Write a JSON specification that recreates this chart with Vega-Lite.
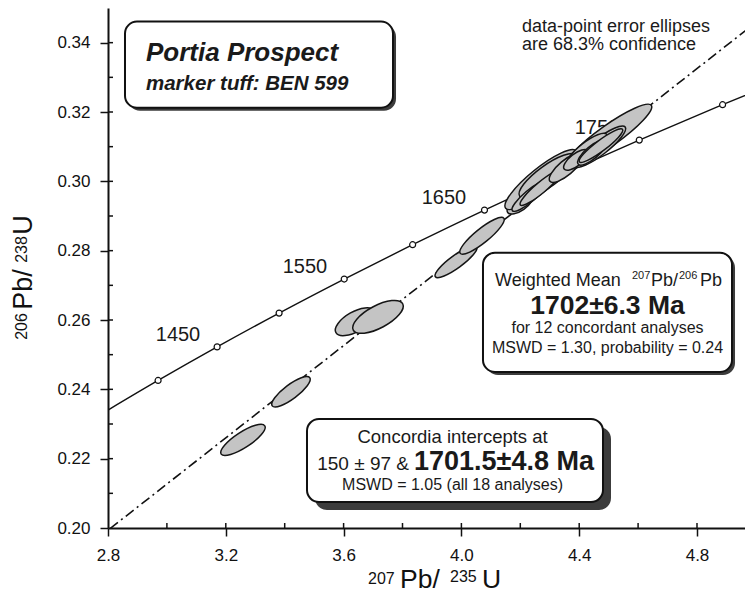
{
  "$schema": "https://vega.github.io/schema/vega-lite/v6.json",
  "width": 637,
  "height": 520,
  "autosize": "none",
  "padding": {"left": 108, "top": 8, "right": 0, "bottom": 65},
  "background": "white",
  "config": {
    "font": "Liberation Sans",
    "view": {"stroke": null},
    "axis": {
      "domainColor": "#111",
      "domainWidth": 2,
      "tickColor": "#111",
      "tickWidth": 1.5,
      "tickSize": 8,
      "labelColor": "#111",
      "labelFontSize": 17,
      "labelFlush": false,
      "grid": false,
      "labelFont": "Liberation Sans",
      "title": null
    },
    "axisX": {"labelPadding": 11},
    "axisY": {"labelPadding": 10}
  },
  "datasets": {
    "concordia": [
      {"t": 1350, "x": 2.7793, "y": 0.23297},
      {"t": 1400, "x": 2.9701, "y": 0.24256},
      {"t": 1450, "x": 3.1705, "y": 0.25224},
      {"t": 1500, "x": 3.3810, "y": 0.26199},
      {"t": 1550, "x": 3.6021, "y": 0.27181},
      {"t": 1600, "x": 3.8344, "y": 0.28172},
      {"t": 1650, "x": 4.0784, "y": 0.29170},
      {"t": 1700, "x": 4.3348, "y": 0.30176},
      {"t": 1750, "x": 4.6040, "y": 0.31189},
      {"t": 1800, "x": 4.8869, "y": 0.32210},
      {"t": 1850, "x": 5.1840, "y": 0.33240}
    ],
    "ellipses": [
      {"id": 1, "x": 3.2584, "y": 0.2254, "len": 52, "ratio": "r30", "ang": -33},
      {"id": 2, "x": 3.4214, "y": 0.2393, "len": 47, "ratio": "r30", "ang": -37},
      {"id": 3, "x": 3.6387, "y": 0.2595, "len": 44, "ratio": "r45", "ang": -30},
      {"id": 4, "x": 3.7168, "y": 0.2609, "len": 56, "ratio": "r40", "ang": -28},
      {"id": 5, "x": 3.9817, "y": 0.2768, "len": 51, "ratio": "r25", "ang": -36},
      {"id": 6, "x": 4.0700, "y": 0.2843, "len": 56, "ratio": "r25", "ang": -39},
      {"id": 7, "x": 4.1990, "y": 0.2935, "len": 30, "ratio": "r45", "ang": -35},
      {"id": 8, "x": 4.2703, "y": 0.3005, "len": 91, "ratio": "r25", "ang": -39},
      {"id": 9, "x": 4.2941, "y": 0.3016, "len": 70, "ratio": "r30", "ang": -36},
      {"id": 10, "x": 4.2329, "y": 0.2958, "len": 46, "ratio": "r25", "ang": -40},
      {"id": 11, "x": 4.2703, "y": 0.2982, "len": 54, "ratio": "r20", "ang": -40},
      {"id": 12, "x": 4.3552, "y": 0.3039, "len": 42, "ratio": "r35", "ang": -40},
      {"id": 13, "x": 4.5012, "y": 0.3132, "len": 104, "ratio": "r20", "ang": -35.5},
      {"id": 14, "x": 4.4706, "y": 0.3100, "len": 64, "ratio": "r25", "ang": -38},
      {"id": 15, "x": 4.4265, "y": 0.3091, "len": 50, "ratio": "r30", "ang": -38},
      {"id": 16, "x": 4.3891, "y": 0.3062, "len": 30, "ratio": "r40", "ang": -38},
      {"id": 17, "x": 4.4435, "y": 0.3083, "len": 36, "ratio": "r35", "ang": -40},
      {"id": 18, "x": 4.4740, "y": 0.3103, "len": 54, "ratio": "r20", "ang": -37}
    ]
  },
  "layer": [
    {
      "data": {"values": [{"x": 2.7, "y": 0.19271}, {"x": 5.0, "y": 0.34583}]},
      "mark": {"type": "line", "clip": true, "color": "#111", "strokeWidth": 1.6, "strokeDash": [10, 4, 2, 4]},
      "encoding": {
        "x": {
          "field": "x", "type": "quantitative",
          "scale": {"domain": [2.8, 4.963], "nice": false, "zero": false},
          "axis": {"values": [2.8, 3.2, 3.6, 4.0, 4.4, 4.8], "format": ".1f", "title": null}
        },
        "y": {
          "field": "y", "type": "quantitative",
          "scale": {"domain": [0.2, 0.35], "nice": false, "zero": false},
          "axis": {"values": [0.2, 0.22, 0.24, 0.26, 0.28, 0.3, 0.32, 0.34], "format": ".2f", "title": null}
        }
      }
    },
    {
      "data": {"name": "concordia"},
      "mark": {"type": "line", "clip": true, "color": "#111", "strokeWidth": 1.4, "interpolate": "monotone"},
      "encoding": {
        "x": {"field": "x", "type": "quantitative"},
        "y": {"field": "y", "type": "quantitative"},
        "order": {"field": "t"}
      }
    },
    {
      "data": {"name": "concordia"},
      "transform": [{"filter": "datum.t >= 1400 && datum.t <= 1800"}],
      "mark": {"type": "point", "shape": "circle", "clip": true, "filled": true, "fill": "white", "stroke": "#111", "strokeWidth": 1.2, "size": 36, "opacity": 1},
      "encoding": {
        "x": {"field": "x", "type": "quantitative"},
        "y": {"field": "y", "type": "quantitative"}
      }
    },
    {
      "data": {"values": [
        {"age": "1450", "x": 3.0377, "y": 0.2557},
        {"age": "1550", "x": 3.4689, "y": 0.27535},
        {"age": "1650", "x": 3.9409, "y": 0.29527},
        {"age": "1750", "x": 4.4604, "y": 0.31547}
      ]},
      "mark": {"type": "text", "fontSize": 20, "align": "center", "baseline": "middle", "color": "#1a1a1a"},
      "encoding": {
        "x": {"field": "x", "type": "quantitative"},
        "y": {"field": "y", "type": "quantitative"},
        "text": {"field": "age"}
      }
    },
    {
      "data": {"name": "ellipses"},
      "mark": {"type": "point", "filled": true, "color": "#c4c4c4", "stroke": "#151515", "strokeWidth": 1.5, "opacity": 1, "clip": true},
      "encoding": {
        "x": {"field": "x", "type": "quantitative"},
        "y": {"field": "y", "type": "quantitative"},
        "size": {"field": "len", "type": "quantitative", "legend": null,
          "scale": {"type": "pow", "exponent": 2, "domain": [0, 100], "range": [0, 10000]}},
        "shape": {"field": "ratio", "type": "nominal", "legend": null,
          "scale": {
            "domain": ["r20", "r25", "r30", "r35", "r40", "r45"],
            "range": [
              "M-1,0C-1,-0.1105,-0.5523,-0.2,0,-0.2C0.5523,-0.2,1,-0.1105,1,0C1,0.1105,0.5523,0.2,0,0.2C-0.5523,0.2,-1,0.1105,-1,0Z",
              "M-1,0C-1,-0.1381,-0.5523,-0.25,0,-0.25C0.5523,-0.25,1,-0.1381,1,0C1,0.1381,0.5523,0.25,0,0.25C-0.5523,0.25,-1,0.1381,-1,0Z",
              "M-1,0C-1,-0.1657,-0.5523,-0.3,0,-0.3C0.5523,-0.3,1,-0.1657,1,0C1,0.1657,0.5523,0.3,0,0.3C-0.5523,0.3,-1,0.1657,-1,0Z",
              "M-1,0C-1,-0.1933,-0.5523,-0.35,0,-0.35C0.5523,-0.35,1,-0.1933,1,0C1,0.1933,0.5523,0.35,0,0.35C-0.5523,0.35,-1,0.1933,-1,0Z",
              "M-1,0C-1,-0.2209,-0.5523,-0.4,0,-0.4C0.5523,-0.4,1,-0.2209,1,0C1,0.2209,0.5523,0.4,0,0.4C-0.5523,0.4,-1,0.2209,-1,0Z",
              "M-1,0C-1,-0.2485,-0.5523,-0.45,0,-0.45C0.5523,-0.45,1,-0.2485,1,0C1,0.2485,0.5523,0.45,0,0.45C-0.5523,0.45,-1,0.2485,-1,0Z"
            ]
          }},
        "angle": {"field": "ang", "type": "quantitative", "scale": null}
      }
    },
    {
      "data": {"values": [
        {"v": 0.21}, {"v": 0.22}, {"v": 0.23}, {"v": 0.24}, {"v": 0.25}, {"v": 0.26}, {"v": 0.27},
        {"v": 0.28}, {"v": 0.29}, {"v": 0.30}, {"v": 0.31}, {"v": 0.32}, {"v": 0.33}, {"v": 0.34}
      ]},
      "mark": {"type": "tick", "orient": "horizontal", "clip": true, "color": "#111", "size": 10, "thickness": 1.5, "opacity": 1},
      "encoding": {
        "x": {"datum": 2.8, "type": "quantitative"},
        "y": {"field": "v", "type": "quantitative"}
      }
    },
    {
      "data": {"values": [
        {"v": 3.0}, {"v": 3.2}, {"v": 3.4}, {"v": 3.6}, {"v": 3.8},
        {"v": 4.0}, {"v": 4.2}, {"v": 4.4}, {"v": 4.6}, {"v": 4.8}
      ]},
      "mark": {"type": "tick", "orient": "vertical", "clip": true, "color": "#111", "size": 10, "thickness": 1.5, "opacity": 1},
      "encoding": {
        "x": {"field": "v", "type": "quantitative"},
        "y": {"datum": 0.2, "type": "quantitative"}
      }
    },
    {
      "mark": {"type": "rule", "color": "#111", "strokeWidth": 2.5},
      "encoding": {"y": {"datum": 0.35, "type": "quantitative"}}
    },
    {
      "data": {"values": [
        {"box": "title", "x1": 2.8679, "x2": 3.7780, "y1": 0.32038, "y2": 0.34520},
        {"box": "mean", "x1": 4.0835, "x2": 4.9291, "y1": 0.24416, "y2": 0.27852},
        {"box": "intercepts", "x1": 3.5029, "x2": 4.5080, "y1": 0.20520, "y2": 0.22916}
      ]},
      "mark": {"type": "rect", "color": "#3c3c3c", "cornerRadius": 12},
      "encoding": {
        "x": {"field": "x1", "type": "quantitative"},
        "x2": {"field": "x2"},
        "y": {"field": "y1", "type": "quantitative"},
        "y2": {"field": "y2"}
      }
    },
    {
      "data": {"values": [
        {"box": "title", "x1": 2.8577, "x2": 3.7678, "y1": 0.32125, "y2": 0.34607},
        {"box": "mean", "x1": 4.0733, "x2": 4.9189, "y1": 0.24503, "y2": 0.27939},
        {"box": "intercepts", "x1": 3.4757, "x2": 4.4808, "y1": 0.20751, "y2": 0.23147}
      ]},
      "mark": {"type": "rect", "fill": "white", "stroke": "#111", "strokeWidth": 2, "cornerRadius": 12},
      "encoding": {
        "x": {"field": "x1", "type": "quantitative"},
        "x2": {"field": "x2"},
        "y": {"field": "y1", "type": "quantitative"},
        "y2": {"field": "y2"}
      }
    },
    {
      "data": {"values": [{"label": "Portia Prospect", "x": 2.929, "y": 0.33482}]},
      "mark": {"type": "text", "fontSize": 26, "fontWeight": "bold", "fontStyle": "italic", "align": "left", "baseline": "alphabetic", "color": "#1a1a1a"},
      "encoding": {
        "x": {"field": "x", "type": "quantitative"},
        "y": {"field": "y", "type": "quantitative"},
        "text": {"field": "label"}
      }
    },
    {
      "data": {"values": [{"label": "marker tuff: BEN 599", "x": 2.929, "y": 0.32644}]},
      "mark": {"type": "text", "fontSize": 20.5, "fontWeight": "bold", "fontStyle": "italic", "align": "left", "baseline": "alphabetic", "color": "#1a1a1a"},
      "encoding": {
        "x": {"field": "x", "type": "quantitative"},
        "y": {"field": "y", "type": "quantitative"},
        "text": {"field": "label"}
      }
    },
    {
      "data": {"values": [
        {"label": "data-point error ellipses", "x": 4.2058, "y": 0.34319},
        {"label": "are 68.3% confidence", "x": 4.2058, "y": 0.33780}
      ]},
      "mark": {"type": "text", "fontSize": 18, "align": "left", "baseline": "alphabetic", "color": "#1a1a1a"},
      "encoding": {
        "x": {"field": "x", "type": "quantitative"},
        "y": {"field": "y", "type": "quantitative"},
        "text": {"field": "label"}
      }
    },
    {
      "data": {"values": [
        {"label": "Weighted Mean", "x": 4.1141, "y": 0.26986},
        {"label": "Pb/", "x": 4.6438, "y": 0.26986},
        {"label": "Pb", "x": 4.8102, "y": 0.26986}
      ]},
      "mark": {"type": "text", "fontSize": 18, "align": "left", "baseline": "alphabetic", "color": "#1a1a1a"},
      "encoding": {
        "x": {"field": "x", "type": "quantitative"},
        "y": {"field": "y", "type": "quantitative"},
        "text": {"field": "label"}
      }
    },
    {
      "data": {"values": [
        {"label": "207", "x": 4.5793, "y": 0.27188},
        {"label": "206", "x": 4.7389, "y": 0.27188}
      ]},
      "mark": {"type": "text", "fontSize": 11, "align": "left", "baseline": "alphabetic", "color": "#1a1a1a"},
      "encoding": {
        "x": {"field": "x", "type": "quantitative"},
        "y": {"field": "y", "type": "quantitative"},
        "text": {"field": "label"}
      }
    },
    {
      "data": {"values": [{"label": "Concordia intercepts at", "x": 3.97, "y": 0.22454}]},
      "mark": {"type": "text", "fontSize": 18.5, "align": "center", "baseline": "alphabetic", "color": "#1a1a1a"},
      "encoding": {
        "x": {"field": "x", "type": "quantitative"},
        "y": {"field": "y", "type": "quantitative"},
        "text": {"field": "label"}
      }
    },
    {
      "data": {"values": [
        {"label": "for 12 concordant analyses", "x": 4.4961, "y": 0.25629},
        {"label": "MSWD = 1.30, probability = 0.24", "x": 4.4961, "y": 0.25052},
        {"label": "MSWD = 1.05 (all 18 analyses)", "x": 3.97, "y": 0.21097}
      ]},
      "mark": {"type": "text", "fontSize": 16, "align": "center", "baseline": "alphabetic", "color": "#1a1a1a"},
      "encoding": {
        "x": {"field": "x", "type": "quantitative"},
        "y": {"field": "y", "type": "quantitative"},
        "text": {"field": "label"}
      }
    },
    {
      "data": {"values": [{"label": "1702±6.3 Ma", "x": 4.4961, "y": 0.26178}]},
      "mark": {"type": "text", "fontSize": 26.5, "fontWeight": "bold", "align": "center", "baseline": "alphabetic", "color": "#1a1a1a"},
      "encoding": {
        "x": {"field": "x", "type": "quantitative"},
        "y": {"field": "y", "type": "quantitative"},
        "text": {"field": "label"}
      }
    },
    {
      "data": {"values": [{"label": "150 ± 97 &", "x": 3.8221, "y": 0.21674}]},
      "mark": {"type": "text", "fontSize": 19, "align": "right", "baseline": "alphabetic", "color": "#1a1a1a"},
      "encoding": {
        "x": {"field": "x", "type": "quantitative"},
        "y": {"field": "y", "type": "quantitative"},
        "text": {"field": "label"}
      }
    },
    {
      "data": {"values": [{"label": "1701.5±4.8 Ma", "x": 3.8391, "y": 0.21674}]},
      "mark": {"type": "text", "fontSize": 27, "fontWeight": "bold", "align": "left", "baseline": "alphabetic", "color": "#1a1a1a"},
      "encoding": {
        "x": {"field": "x", "type": "quantitative"},
        "y": {"field": "y", "type": "quantitative"},
        "text": {"field": "label"}
      }
    },
    {
      "data": {"values": [
        {"label": "207", "x": 3.6829, "y": 0.18383},
        {"label": "235", "x": 3.9613, "y": 0.18441}
      ]},
      "mark": {"type": "text", "fontSize": 16, "align": "left", "baseline": "alphabetic", "color": "#111"},
      "encoding": {
        "x": {"field": "x", "type": "quantitative"},
        "y": {"field": "y", "type": "quantitative"},
        "text": {"field": "label"}
      }
    },
    {
      "data": {"values": [
        {"label": "Pb/", "x": 3.7915, "y": 0.18268},
        {"label": "U", "x": 4.0700, "y": 0.18268}
      ]},
      "mark": {"type": "text", "fontSize": 26.5, "align": "left", "baseline": "alphabetic", "color": "#111"},
      "encoding": {
        "x": {"field": "x", "type": "quantitative"},
        "y": {"field": "y", "type": "quantitative"},
        "text": {"field": "label"}
      }
    },
    {
      "data": {"values": [
        {"label": "206", "x": 2.5250, "y": 0.25427},
        {"label": "238", "x": 2.5250, "y": 0.27650}
      ]},
      "mark": {"type": "text", "fontSize": 16, "angle": 270, "align": "left", "baseline": "alphabetic", "color": "#111"},
      "encoding": {
        "x": {"field": "x", "type": "quantitative"},
        "y": {"field": "y", "type": "quantitative"},
        "text": {"field": "label"}
      }
    },
    {
      "data": {"values": [
        {"label": "Pb/", "x": 2.5419, "y": 0.26293},
        {"label": "U", "x": 2.5419, "y": 0.28458}
      ]},
      "mark": {"type": "text", "fontSize": 27, "angle": 270, "align": "left", "baseline": "alphabetic", "color": "#111"},
      "encoding": {
        "x": {"field": "x", "type": "quantitative"},
        "y": {"field": "y", "type": "quantitative"},
        "text": {"field": "label"}
      }
    }
  ]
}
